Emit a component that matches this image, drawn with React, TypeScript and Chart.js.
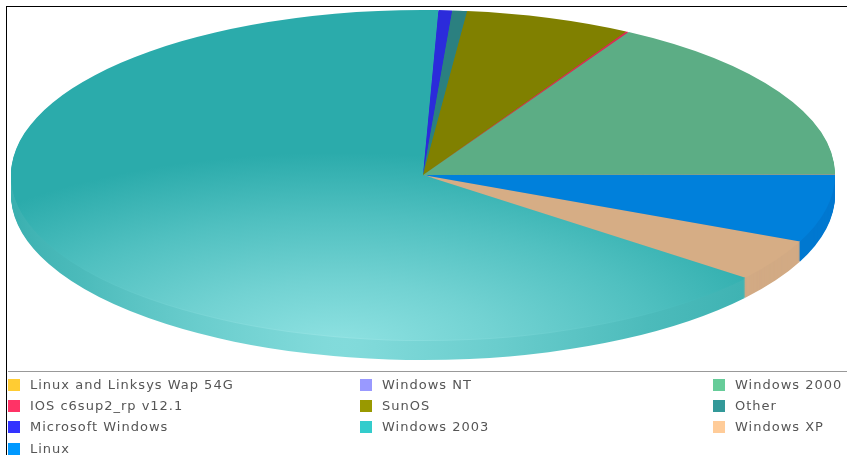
import { useEffect, useRef } from "react";
import { Chart, registerables } from "chart.js";

Chart.register(...registerables);

const categories = ["Linux", "Windows XP", "Windows 2003", "Microsoft Windows", "Other", "SunOS", "IOS c6sup2_rp v12.1", "Windows 2000", "Windows NT", "Linux and Linksys Wap 54G"];
const values = [6.6, 4.1, 64.9, 0.53, 0.58, 6.5, 0.11, 16.6, 0.06, 0.02];
const topColors = ["#0080DB", "#D6AD85", "#2BABAB", "#2B2BDB", "#2B8080", "#808000", "#DB2B55", "#5CAD85", "#8080DB", "#DBAD2B"];
const sideColors = ["#0078D0", "#D2AA84", "#3FB4B4", "#2B2BDB", "#2B8080", "#808000", "#DB2B55", "#5CAD85", "#8080DB", "#DBAD2B"];
const legendLabels = ["Linux and Linksys Wap 54G", "Windows NT", "Windows 2000", "IOS c6sup2_rp v12.1", "SunOS", "Other", "Microsoft Windows", "Windows 2003", "Windows XP", "Linux"];
const legendColors = ["#FFCC33", "#9999FF", "#66CC99", "#FF3366", "#999900", "#339999", "#3333FF", "#33CCCC", "#FFCC99", "#0099FF"];
const legendColumns = [8, 360, 713];
const legendRows = [385, 406, 427, 449];

const CENTER_X = 423, CENTER_Y = 175, RADIUS_X = 412, RADIUS_Y = 165, DEPTH = 20;

const tilted = {
  id: "tilted",
  beforeDatasetDraw(chart: any) {
    const { ctx } = chart;
    const arcs = chart.getDatasetMeta(0).data;
    const r = arcs[0].outerRadius, cx = arcs[0].x, cy = arcs[0].y;
    const sx = RADIUS_X / r, sy = RADIUS_Y / r;
    const glow = (reach: number, stops: string[]) => {
      const gx = cx - 85 / sx, gy = cy + 170 / sy;
      const g = ctx.createRadialGradient(gx, gy, 0, gx, gy, reach / sx);
      stops.forEach((c, i) => g.addColorStop(i / (stops.length - 1), c));
      return g;
    };
    const paint = (dy: number, colors: string[], fill: any) => {
      ctx.save();
      ctx.translate(CENTER_X, CENTER_Y + dy);
      ctx.scale(sx, sy);
      ctx.translate(-cx, -cy);
      arcs.forEach((arc: any, i: number) => {
        const ghost = Object.create(arc);
        ghost.options = { ...arc.options, backgroundColor: i === 2 ? fill : colors[i] };
        ghost.draw(ctx);
      });
      ctx.restore();
    };
    const sideGlow = glow(480, ["#86DDDD", "#6ACDCD", "#4CBBBB", "#3AB0B0"]);
    for (let dy = DEPTH; dy > 1; dy--) paint(dy, sideColors, sideGlow);
    paint(1, sideColors, glow(480, ["#98E5E5", "#78D5D5", "#52C1C1", "#2BABAB"]));
    paint(0, topColors, glow(480, ["#8FE2E2", "#72D2D2", "#50C0C0", "#2BABAB"]));
    return false;
  },
};

export default function App() {
  const ref = useRef<HTMLCanvasElement>(null);
  useEffect(() => {
    document.body.style.margin = "0";
    const chart = new Chart(ref.current!, {
      type: "pie",
      data: { labels: categories, datasets: [{ data: values, backgroundColor: topColors, borderWidth: 0 }] },
      options: {
        responsive: false,
        animation: false,
        rotation: 90,
        layout: { padding: 0 },
        plugins: { legend: { display: false }, tooltip: { enabled: false } },
      },
      plugins: [tilted],
    });
    return () => chart.destroy();
  }, []);
  return (
    <div style={{ position: "relative", width: 847, height: 455, overflow: "hidden", background: "#fff" }}>
      <canvas ref={ref} width={847} height={455} style={{ position: "absolute", left: 0, top: 0 }} />
      <div style={{ position: "absolute", left: 6, top: 6, width: 841, height: 1, background: "#000" }} />
      <div style={{ position: "absolute", left: 6, top: 6, width: 1, height: 449, background: "#000" }} />
      <div style={{ position: "absolute", left: 8, top: 371, width: 839, height: 1, background: "#999" }} />
      {legendLabels.map((label, i) => {
        const x = legendColumns[i % 3];
        const y = legendRows[Math.floor(i / 3)];
        return (
          <div key={label} style={{ position: "absolute", left: x, top: y - 8, height: 16, whiteSpace: "nowrap", font: "13px 'DejaVu Sans'", lineHeight: "16px", letterSpacing: "1px", color: "#555" }}>
            <span style={{ position: "absolute", left: 0, top: 2, width: 12, height: 12, background: legendColors[i] }} />
            <span style={{ position: "absolute", left: 22, top: 0 }}>{label}</span>
          </div>
        );
      })}
    </div>
  );
}
